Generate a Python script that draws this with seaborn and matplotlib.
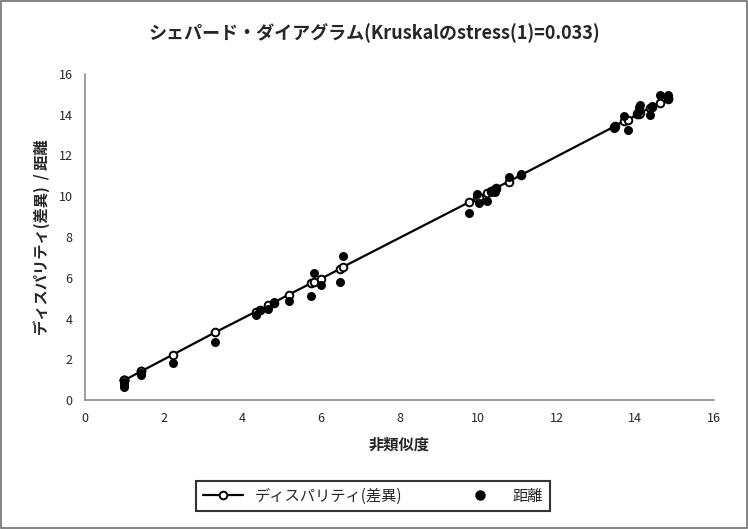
"""
Shepard diagram (Kruskal stress) - dissimilarity vs distance / disparity
"""

import numpy as np
import pandas as pd
import matplotlib
matplotlib.use('Agg')
import matplotlib.pyplot as plt
import seaborn as sns
from matplotlib.lines import Line2D
from matplotlib.patches import Rectangle

# Data
dissimilarity = [1.00, 1.00, 1.00, 1.00, 1.42, 1.42, 2.23, 3.31, 4.34, 4.45,
                 4.66, 4.80, 5.18, 5.74, 5.82, 6.00, 6.48, 6.56, 9.78, 9.98,
                 10.02, 10.22, 10.32, 10.43, 10.46, 10.78, 11.10, 13.46, 13.48, 13.70,
                 13.82, 14.05, 14.08, 14.10, 14.12, 14.38, 14.42, 14.62, 14.82, 14.84]
distance = [0.66, 0.74, 0.82, 0.90, 1.22, 1.32, 1.82, 2.87, 4.15, 4.40,
            4.48, 4.80, 4.88, 5.08, 6.22, 5.66, 5.80, 7.08, 9.16, 10.11,
            9.65, 9.78, 10.22, 10.20, 10.36, 10.96, 11.10, 13.35, 13.42, 13.92,
            13.26, 14.10, 14.18, 14.38, 14.48, 14.00, 14.42, 14.98, 14.85, 14.98]
disparity = [0.97, 0.97, 0.97, 0.97, 1.40, 1.40, 2.22, 3.32, 4.33, 4.40,
             4.64, 4.78, 5.17, 5.72, 5.78, 5.95, 6.43, 6.53, 9.72, 9.92,
             9.96, 10.15, 10.25, 10.38, 10.42, 10.72, 11.05, 13.42, 13.45, 13.68,
             13.76, 14.02, 14.05, 14.08, 14.10, 14.35, 14.40, 14.56, 14.78, 14.80]

title = 'シェパード・ダイアグラム(Kruskalのstress(1)=0.033)'
x_label = '非類似度'
y_label = 'ディスパリティ(差異)  / 距離'
legend_labels = ['ディスパリティ(差異)', '距離']

df = pd.DataFrame({'dissimilarity': dissimilarity, 'distance': distance,
                   'disparity': disparity})

sns.set_style('white')
plt.rcParams['font.family'] = ['Noto Sans CJK JP', 'DejaVu Sans']

fig = plt.figure(figsize=(7.48, 5.29), dpi=100)
ax = fig.add_axes([85 / 748, 1 - 400 / 529, (714 - 85) / 748, (400 - 74) / 529])

sns.lineplot(data=df, x='dissimilarity', y='disparity', estimator=None, sort=True,
             color='black', linewidth=1.6, marker='o', markersize=5.5,
             markerfacecolor='white', markeredgecolor='black', markeredgewidth=1.4,
             ax=ax, zorder=2)
sns.scatterplot(data=df, x='dissimilarity', y='distance', color='black', s=42,
                edgecolor='black', linewidth=0, ax=ax, zorder=3)

ax.set_xlim(0, 16)
ax.set_ylim(0, 16)
ax.set_xticks(np.arange(0, 17, 2))
ax.set_yticks(np.arange(0, 17, 2))

for side in ['top', 'right']:
    ax.spines[side].set_visible(False)
for side in ['left', 'bottom']:
    ax.spines[side].set_color('#8c8c8c')
    ax.spines[side].set_linewidth(1.2)
ax.tick_params(axis='both', which='major', direction='out', length=5, width=1,
               color='#8c8c8c', labelsize=9, labelcolor='#262626', pad=4)

ax.set_xlabel(x_label, fontsize=11, fontweight='bold', labelpad=8)
ax.set_ylabel(y_label, fontsize=11, fontweight='bold', labelpad=6)
fig.text(0.5, 1 - 33 / 529, title, ha='center', va='center', fontsize=13,
         fontweight='bold')

handles = [
    Line2D([0], [0], color='black', linewidth=1.6, marker='o', markersize=5.5,
           markerfacecolor='white', markeredgecolor='black', markeredgewidth=1.4),
    Line2D([0], [0], color='black', linestyle='none', marker='o', markersize=6.5),
]
leg = fig.legend(handles, legend_labels, loc='center', ncol=2,
                 bbox_to_anchor=(373 / 748, 1 - 496 / 529), frameon=True,
                 fancybox=False, fontsize=11, handlelength=2.6, columnspacing=3.8,
                 borderpad=0.45, borderaxespad=0)
leg.get_frame().set_edgecolor('black')
leg.get_frame().set_linewidth(1.5)

# Outer chart border
fig.patches.append(Rectangle((0.001, 0.001), 0.998, 0.998, transform=fig.transFigure,
                             fill=False, edgecolor='#6e6e6e', linewidth=1.2))

plt.savefig('out.png', dpi=100, facecolor='white')
plt.close()
